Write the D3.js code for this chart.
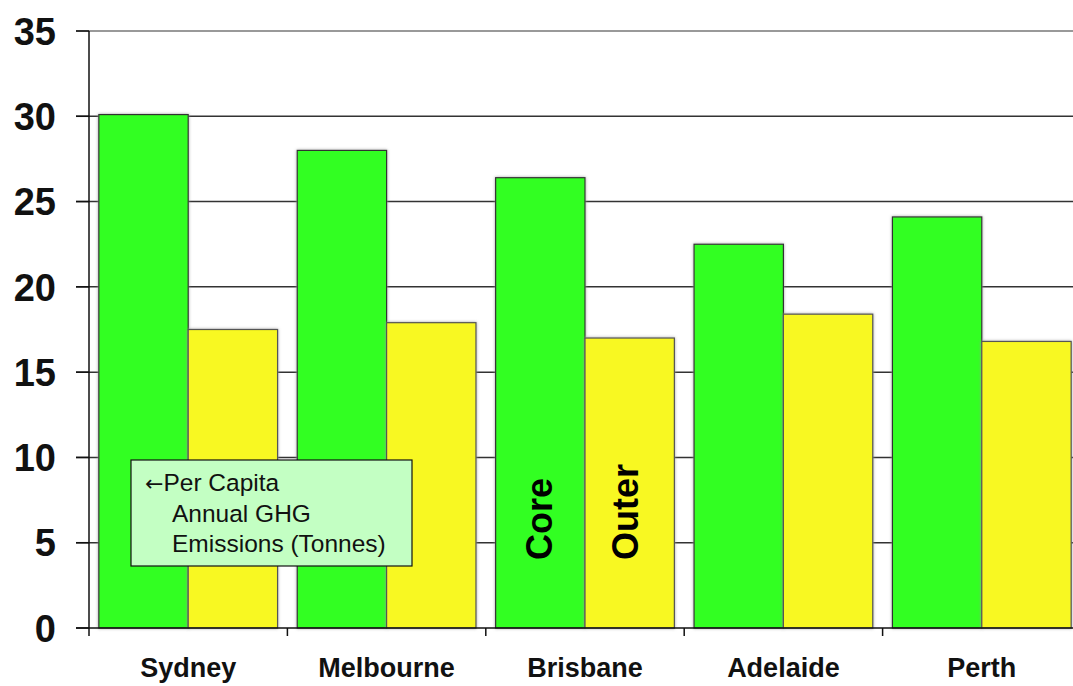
<!DOCTYPE html>
<html>
<head>
<meta charset="utf-8">
<script src="https://cdn.jsdelivr.net/npm/d3@7"></script>
<style>
  body { margin: 0; background: #fff; }
  svg { display: block; font-family: Arial, "Liberation Sans", sans-serif; }
</style>
</head>
<body>
<script>
var cities = ["Sydney", "Melbourne", "Brisbane", "Adelaide", "Perth"];
var coreValues = [30.1, 28.0, 26.4, 22.5, 24.1];
var outerValues = [17.5, 17.9, 17.0, 18.4, 16.8];
var yTicks = [0, 5, 10, 15, 20, 25, 30, 35];
var legendLines = ["Per Capita", "Annual GHG", "Emissions (Tonnes)"];

var width = 1073, height = 686;
var plotLeft = 89, plotRight = 1081, plotTop = 31, plotBottom = 628;

var svg = d3.select("body").append("svg")
    .attr("width", width)
    .attr("height", height);

var defs = svg.append("defs");
var f = defs.append("filter").attr("id", "shadow")
    .attr("x", "-10%").attr("y", "-10%").attr("width", "120%").attr("height", "120%");
f.append("feDropShadow").attr("dx", 0).attr("dy", 0)
    .attr("stdDeviation", 1.6).attr("flood-color", "#999").attr("flood-opacity", 0.9);

var x = d3.scaleBand().domain(cities).range([plotLeft, plotRight]);
var y = d3.scaleLinear().domain([0, 35]).range([plotBottom, plotTop]);

var inner = d3.scaleBand().domain(["core", "outer"])
    .range([0, x.bandwidth()]).paddingOuter(0.11);

// gridlines
svg.append("g").selectAll("line")
    .data(yTicks.filter(function(d) { return d > 0; }))
    .enter().append("line")
    .attr("x1", plotLeft - 13).attr("x2", width)
    .attr("y1", function(d) { return y(d); })
    .attr("y2", function(d) { return y(d); })
    .attr("stroke", function(d) { return d == 35 ? "#777" : "#333"; })
    .attr("stroke-width", 1.5);

// bars
var data = cities.map(function(c, i) {
  return {city: c, core: coreValues[i], outer: outerValues[i]};
});

var groups = svg.append("g").selectAll("g")
    .data(data).enter().append("g")
    .attr("transform", function(d) { return "translate(" + x(d.city) + ",0)"; });

groups.append("rect")
    .attr("x", inner("core"))
    .attr("width", inner.bandwidth())
    .attr("y", function(d) { return y(d.core); })
    .attr("height", function(d) { return y(0) - y(d.core); })
    .attr("fill", "#33FF22")
    .attr("stroke", "#333")
    .attr("stroke-width", 1.2)
    .attr("filter", "url(#shadow)");

groups.append("rect")
    .attr("x", inner("outer"))
    .attr("width", inner.bandwidth())
    .attr("y", function(d) { return y(d.outer); })
    .attr("height", function(d) { return y(0) - y(d.outer); })
    .attr("fill", "#F8F820")
    .attr("stroke", "#555")
    .attr("stroke-width", 1.2)
    .attr("filter", "url(#shadow)");

// axes
svg.append("line")
    .attr("x1", plotLeft).attr("x2", plotLeft)
    .attr("y1", plotTop).attr("y2", plotBottom)
    .attr("stroke", "#111").attr("stroke-width", 1.5);
svg.append("line")
    .attr("x1", plotLeft - 13).attr("x2", width)
    .attr("y1", plotBottom).attr("y2", plotBottom)
    .attr("stroke", "#111").attr("stroke-width", 1.5);

svg.append("g").selectAll("line")
    .data(yTicks).enter().append("line")
    .attr("x1", plotLeft - 13).attr("x2", plotLeft)
    .attr("y1", function(d) { return y(d); })
    .attr("y2", function(d) { return y(d); })
    .attr("stroke", "#111").attr("stroke-width", 1.5);

svg.append("g").selectAll("text")
    .data(yTicks).enter().append("text")
    .attr("x", 56)
    .attr("y", function(d) { return y(d); })
    .attr("dy", "0.36em")
    .attr("text-anchor", "end")
    .attr("font-size", 38)
    .attr("font-weight", "bold")
    .attr("fill", "#111")
    .text(function(d) { return d; });

svg.append("g").selectAll("line")
    .data(cities).enter().append("line")
    .attr("x1", function(d) { return x(d); })
    .attr("x2", function(d) { return x(d); })
    .attr("y1", plotBottom).attr("y2", plotBottom + 8)
    .attr("stroke", "#111").attr("stroke-width", 1.5);

svg.append("g").selectAll("text")
    .data(cities).enter().append("text")
    .attr("x", function(d) { return x(d) + x.bandwidth() / 2; })
    .attr("y", 677)
    .attr("text-anchor", "middle")
    .attr("font-size", 27)
    .attr("font-weight", "bold")
    .attr("fill", "#111")
    .text(function(d) { return d; });

// Core / Outer labels on Brisbane
var bx = x("Brisbane");
svg.append("text")
    .attr("transform", "translate(" + (bx + inner("core") + inner.bandwidth() / 2 + 12) + ",560) rotate(-90)")
    .attr("font-size", 36).attr("font-weight", "bold").attr("fill", "#000")
    .text("Core");
svg.append("text")
    .attr("transform", "translate(" + (bx + inner("outer") + inner.bandwidth() / 2 + 8) + ",560) rotate(-90)")
    .attr("font-size", 36).attr("font-weight", "bold").attr("fill", "#000")
    .text("Outer");

// legend box
svg.append("rect")
    .attr("x", 131).attr("y", 460)
    .attr("width", 281).attr("height", 106)
    .attr("fill", "#C3FFC3")
    .attr("stroke", "#111").attr("stroke-width", 1.2);

var lt = svg.append("g").selectAll("text")
    .data(legendLines).enter().append("text")
    .attr("x", function(d, i) { return i == 0 ? 145 : 172; })
    .attr("y", function(d, i) { return 491 + i * 30.5; })
    .attr("font-size", 24.5)
    .attr("fill", "#111");
lt.filter(function(d, i) { return i == 0; })
    .append("tspan")
    .attr("font-family", "'DejaVu Sans', sans-serif")
    .attr("font-size", 22)
    .text("\u2190");
lt.append("tspan").text(function(d) { return d; });
</script>
</body>
</html>
